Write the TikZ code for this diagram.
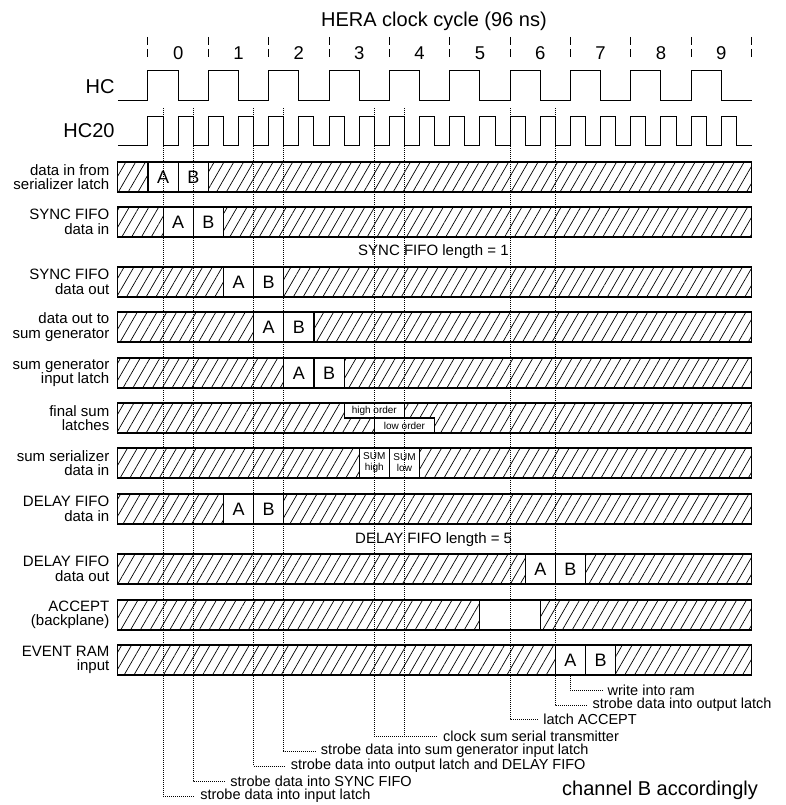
\documentclass[tikz,border=0pt]{standalone}
\usepackage{fontspec}
\setmainfont{Liberation Sans}
\usetikzlibrary{positioning,patterns.meta}

\begin{document}
\begin{tikzpicture}[
  x=15.0875pt,y=-1pt,
  lbl/.style={anchor=east,align=right,inner sep=0pt,font=\fontsize{15}{14.5}\selectfont},
  sigl/.style={anchor=east,inner sep=0pt,font=\fontsize{20}{20}\selectfont},
  num/.style={inner sep=0pt,font=\fontsize{18.5}{18.5}\selectfont},
  sig/.style={line width=1pt},
  tck/.style={line width=1pt,dash pattern=on 8pt off 4pt},
  hatch/.style={draw,line width=1.1pt,pattern={Lines[angle=60,distance=8.5pt,line width=0.7pt]}},
  cell/.style={draw,fill=white,line width=1.1pt,minimum width=30.175pt,minimum height=30pt,inner sep=0pt,font=\fontsize{18}{18}\selectfont},
  halfcell/.style={draw,fill=white,line width=1.1pt,minimum width=60.35pt,minimum height=15pt,inner sep=0pt,font=\fontsize{10}{10}\selectfont},
  sumcell/.style={cell,align=center,font=\fontsize{10}{11}\selectfont},
  strobe/.style={line width=0.8pt,dash pattern=on 1pt off 1pt},
  note/.style={inner xsep=3pt,inner ysep=0pt,font=\fontsize{14.5}{14.5}\selectfont}
]
\useasboundingbox (-9.8094,0) rectangle (42.2204,805);

% header
\node[anchor=base,inner sep=0pt,font=\fontsize{20}{20}\selectfont] (title) at (18.95,27) {HERA clock cycle (96 ns)};
\foreach \k in {0,...,10}
  \draw[tck] (4*\k,37) -- (4*\k,58);
\foreach \k in {0,...,9}
  \node[num] (cyc\k) at (4*\k+2,53.5) {\k};

% clocks
\node[sigl] (hc) at (-2.2,87) {HC};
\node[sigl] (hc20) at (-2.2,131) {HC20};
\draw[sig] (-2,101) \foreach \k in {0,...,9} {-- (4*\k,101) -- (4*\k,71) -- (4*\k+2,71) -- (4*\k+2,101)} -- (40,101);
\draw[sig] (-2,146) \foreach \k in {0,...,19} {-- (2*\k,146) -- (2*\k,117) -- (2*\k+1,117) -- (2*\k+1,146)} -- (40,146);

% data rows with A and B
\foreach \ry/\aq/\nm/\txt in {
    162/0/sl/{data in from\\serializer latch},
    207/1/sfi/{SYNC FIFO\\data in},
    267/5/sfo/{SYNC FIFO\\data out},
    312/7/sg/{data out to\\sum generator},
    358/9/sgl/{sum generator\\input latch},
    494/5/dfi/{DELAY FIFO\\data in},
    554/25/dfo/{DELAY FIFO\\data out},
    645/27/ram/{EVENT RAM\\input}} {
  \draw[hatch] (-2,\ry) rectangle (40,\ry+30);
  \node[cell] (\nm-a) at (\aq+1,\ry+15) {A};
  \node[cell] (\nm-b) at (\aq+3,\ry+15) {B};
  \node[lbl] (\nm) at (-2.55,\ry+15) {\txt};
}

% final sum latches
\draw[hatch] (-2,403) rectangle (40,433);
\node[halfcell] (hiord) at (15,410.5) {high order};
\node[halfcell] (loord) at (17,425.5) {low order};
\node[lbl] (fsl) at (-2.55,418) {final sum\\latches};

% sum serializer
\draw[hatch] (-2,448) rectangle (40,478);
\node[sumcell] (sumhi) at (15,463) {SUM\\high};
\node[sumcell] (sumlo) at (17,463) {SUM\\low};
\node[lbl] (ssd) at (-2.55,463) {sum serializer\\data in};

% accept
\draw[hatch] (-2,600) rectangle (40,630);
\node[halfcell,minimum height=30pt] (acc) at (24,615) {};
\node[lbl] (accl) at (-2.55,615) {ACCEPT\\(backplane)};

% fifo lengths
\node[anchor=west,inner sep=0pt,font=\fontsize{15}{15}\selectfont] (synclen) at (13.92,252) {SYNC FIFO length = 1};
\node[anchor=west,inner sep=0pt,font=\fontsize{15}{15}\selectfont] (dellen) at (13.72,540) {DELAY FIFO length = 5};

% strobes
\foreach \q/\yb in {1/796,3/781,7/766,9/751,15/736,17/736,24/719,27/705}{
  \coordinate (s\q) at (\q,108);
  \coordinate (b\q) at (\q,\yb);
}
\coordinate (b28) at (28,690);
\node[note,right=34pt of b1] (n1) {strobe data into input latch};
\node[note,right=34pt of b3] (n3) {strobe data into SYNC FIFO};
\node[note,right=34pt of b7] (n7) {strobe data into output latch and DELAY FIFO};
\node[note,right=34pt of b9] (n9) {strobe data into sum generator input latch};
\node[note,right=65.7pt of b15] (n15) {clock sum serial transmitter};
\node[note,right=30pt of b24] (n24) {latch ACCEPT};
\node[note,right=34pt of b27] (n27) {strobe data into output latch};
\node[note,right=34pt of b28] (n28) {write into ram};
\foreach \q in {1,3,7,9,15,24,27}
  \draw[strobe,shorten >=2pt] (s\q) |- (n\q.west);
\draw[strobe] (s17) -- (b17);
\draw[strobe,shorten >=2pt] (ram-a.south) |- (n28.west);

\node[anchor=west,inner sep=0pt,font=\fontsize{20}{20}\selectfont] (chb) at (27.44,790) {channel B accordingly};
\end{tikzpicture}
\end{document}
